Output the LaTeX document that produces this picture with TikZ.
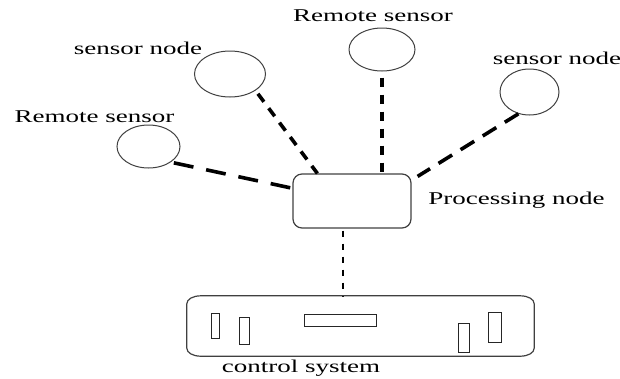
\documentclass[tikz,border=0pt]{standalone}
\usepackage{fontspec}
\setmainfont{Liberation Serif}[FakeStretch=1.5]
\usetikzlibrary{shapes.geometric,calc}
\definecolor{outl}{HTML}{404040}
\begin{document}
\begin{tikzpicture}[x=1pt,y=-1pt,
  sensor/.style={ellipse,draw=outl,line width=1pt,inner sep=0pt},
  lbl/.style={anchor=base,inner sep=0pt,font=\fontsize{18pt}{20pt}\selectfont},
  link/.style={line width=3.6pt,black},
  feed/.style={line width=1.6pt,black,dash pattern=on 6pt off 7pt},
  shell/.style={draw=outl,line width=1.2pt},
  slot/.style={draw=black!85,line width=1pt}]
\useasboundingbox (0,0) rectangle (620,378);

% sensors
\node[sensor,minimum width=63pt,minimum height=43pt] (rsL) at (148.5,146.5) {};
\node[sensor,minimum width=71pt,minimum height=46pt] (snL) at (230,74) {};
\node[sensor,minimum width=66pt,minimum height=43pt] (rsT) at (382,49.5) {};
\node[sensor,minimum width=59pt,minimum height=46pt] (snR) at (529.5,92) {};

% processing node and control system frame
\node[shell,rounded corners=9pt,minimum width=118pt,minimum height=54pt] (proc) at (352,201) {};
\node[draw=none,inner sep=0pt,minimum width=347pt,minimum height=60pt] (ctrl) at (360.5,326) {};

% labels
\node[lbl] (lRsL) at (94.5,122.5) {Remote sensor};
\node[lbl] (lSnL) at (138,54) {sensor node};
\node[lbl] (lRsT) at (373,21) {Remote sensor};
\node[lbl] (lSnR) at (557,64) {sensor node};
\node[lbl] (lProc) at (516.5,204) {Processing node};
\node[lbl] (lCtrl) at (301,372.5) {control system};

% wireless links
\draw[link,dash pattern=on 20pt off 13pt,shorten <=3pt] (rsL.-35) -- (proc);
\draw[link,dash pattern=on 10pt off 8pt,shorten <=4pt] (snL.-33) -- ([xshift=25pt]proc.north west);
\draw[link,line width=4pt,dash pattern=on 9pt off 8pt,shorten <=6pt] (rsT) -- (rsT |- proc.north);
\draw[link,dash pattern=on 16pt off 10pt] (snR.-117) -- ([xshift=6pt,yshift=-3pt]proc.north east);

% wired feed to the control system
\draw[feed] ([xshift=-9pt,yshift=-2pt]proc.south) -- ([xshift=-9pt]proc.south |- ctrl.north);

% control system outline
\draw[shell] ([xshift=14pt]ctrl.north west) -- ([xshift=-14pt]ctrl.north east)
  .. controls ([xshift=-6pt]ctrl.north east) and ([yshift=-3.5pt]ctrl.north east) .. ([yshift=-8pt]ctrl.north east)
  -- ([yshift=8pt]ctrl.south east)
  .. controls ([yshift=3.5pt]ctrl.south east) and ([xshift=-6pt]ctrl.south east) .. ([xshift=-14pt]ctrl.south east)
  -- ([xshift=14pt]ctrl.south west)
  .. controls ([xshift=6pt]ctrl.south west) and ([yshift=3.5pt]ctrl.south west) .. ([yshift=8pt]ctrl.south west)
  -- ([yshift=-8pt]ctrl.north west)
  .. controls ([yshift=-3.5pt]ctrl.north west) and ([xshift=6pt]ctrl.north west) .. cycle;

% panel elements
\draw[slot] (211,313) rectangle (219,338);
\draw[slot] (239,317) rectangle (249,344);
\draw[slot] (304,314) rectangle (376,326);
\draw[slot] (458,323) rectangle (469,352);
\draw[slot] (488,312) rectangle (501,342);
\end{tikzpicture}
\end{document}
